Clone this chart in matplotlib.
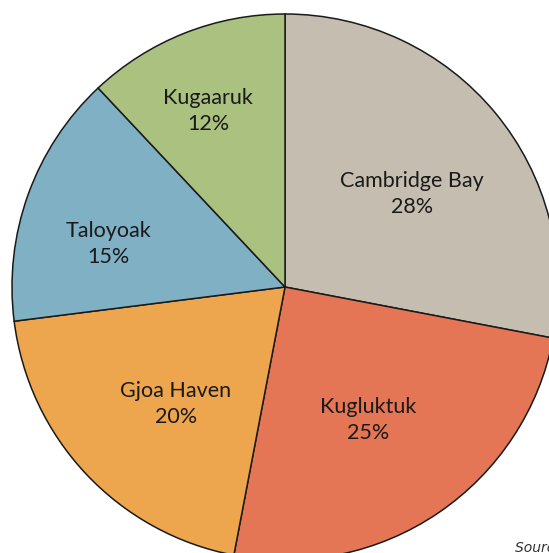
import numpy as np
import matplotlib.pyplot as plt

communities = ['Cambridge Bay', 'Kugluktuk', 'Gjoa Haven', 'Taloyoak', 'Kugaaruk']
shares = [28, 25, 20, 15, 12]
colors = ['#C5BDAF', '#E47555', '#EDA54E', '#7FB0C4', '#AAC17F']

# label placement (fraction of radius, angle tweak in degrees)
label_r = [0.577, 0.574, 0.586, 0.664, 0.704]
label_da = [-3.4, -2.2, 3.8, 6.1, 2.0]

W, H = 549, 553
CX, CY, R = 285, 287, 273

fig = plt.figure(figsize=(W / 100, H / 100), dpi=100)
ax = fig.add_axes([0, 0, 1, 1])

wedges, _ = ax.pie(shares, colors=colors, startangle=90, counterclock=False,
                   radius=1.0, wedgeprops=dict(edgecolor='#1a1a1a', linewidth=1.1))

ax.set_aspect('auto')
ax.set_xlim(-CX / R, (W - CX) / R)
ax.set_ylim(-(H - CY) / R, CY / R)
ax.axis('off')

for w, name, v, r, da in zip(wedges, communities, shares, label_r, label_da):
    mid = np.deg2rad((w.theta1 + w.theta2) / 2 + da)
    ax.text(r * np.cos(mid), r * np.sin(mid), f'{name}\n{v}%',
            ha='center', va='center', fontsize=15.5, family='Lato',
            color='#1a1a1a', linespacing=1.4)

fig.text(515 / W, 1 - 548 / H, 'Source: Statistics Canada', fontsize=10,
         style='italic', color='#333333', ha='left', va='center')

fig.savefig('out.png', dpi=100)
